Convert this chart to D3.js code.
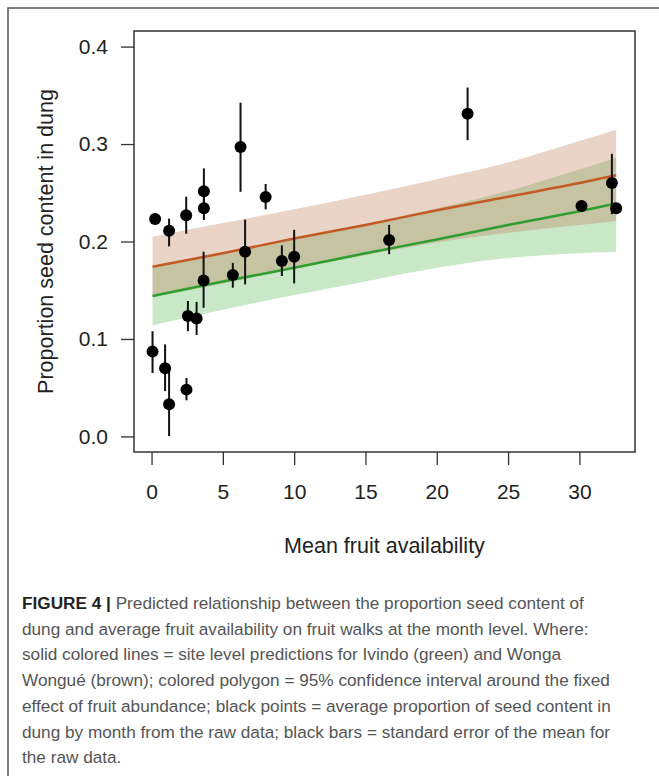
<!DOCTYPE html>
<html>
<head>
<meta charset="utf-8">
<script src="https://cdn.jsdelivr.net/npm/d3@7"></script>
<style>
  body { margin: 0; background: #fff; }
  svg { display: block; }
  .tick text { font-family: "Liberation Sans", Arial, sans-serif; font-size: 21px; fill: #222; }
  .tick line { stroke: #333; stroke-width: 1.3px; }
</style>
</head>
<body>
<div id="chart"></div>
<script>
// Monthly raw data: mean fruit availability vs proportion seed content
const fruitX = [0.07, 0.25, 0.95, 1.23, 1.23, 2.43, 2.45, 2.55, 3.16, 3.65, 3.67, 3.67,
  5.7, 6.24, 6.56, 8.0, 9.14, 10.0, 16.66, 22.16, 30.15, 32.28, 32.58];
const seedY = [0.087, 0.223, 0.070, 0.211, 0.033, 0.227, 0.048, 0.1235, 0.121, 0.160, 0.2515, 0.234,
  0.1656, 0.297, 0.1895, 0.2457, 0.180, 0.1844, 0.2015, 0.331, 0.2365, 0.260, 0.234];
const seLow = [0.065, 0.219, 0.0465, 0.195, 0.0003, 0.208, 0.037, 0.108, 0.104, 0.132, 0.234, 0.222,
  0.1526, 0.251, 0.156, 0.233, 0.1646, 0.157, 0.187, 0.304, 0.234, 0.228, 0.229];
const seHigh = [0.108, 0.227, 0.0944, 0.2235, 0.069, 0.246, 0.060, 0.139, 0.138, 0.1895, 0.275, 0.250,
  0.178, 0.3425, 0.2224, 0.259, 0.196, 0.212, 0.217, 0.358, 0.239, 0.290, 0.238];

// Model predictions and 95% CI by site
const bandX = [0.07, 5, 10, 15, 20, 25, 30, 32.58];
const wongaFit = [0.174, 0.188, 0.203, 0.217, 0.232, 0.246, 0.260, 0.268];
const wongaLow = [0.143, 0.157, 0.172, 0.186, 0.199, 0.209, 0.217, 0.221];
const wongaHigh = [0.205, 0.219, 0.233, 0.248, 0.264, 0.281, 0.303, 0.315];
const ivindoFit = [0.144, 0.159, 0.173, 0.188, 0.202, 0.217, 0.231, 0.239];
const ivindoLow = [0.114, 0.130, 0.145, 0.159, 0.173, 0.183, 0.188, 0.1895];
const ivindoHigh = [0.174, 0.189, 0.203, 0.218, 0.234, 0.252, 0.274, 0.286];

const xTicks = [0, 5, 10, 15, 20, 25, 30];
const yTicks = [0.0, 0.1, 0.2, 0.3, 0.4];

const xTitle = 'Mean fruit availability';
const yTitle = 'Proportion seed content in dung';
const captionLines = [
  'dung and average fruit availability on fruit walks at the month level. Where:',
  'solid colored lines = site level predictions for Ivindo (green) and Wonga',
  'Wongué (brown); colored polygon = 95% confidence interval around the fixed',
  'effect of fruit abundance; black points = average proportion of seed content in',
  'dung by month from the raw data; black bars = standard error of the mean for',
  'the raw data.'
];
const captionHead = 'FIGURE 4 |';
const captionFirst = ' Predicted relationship between the proportion seed content of';

const width = 659;
const height = 781;
const box = { left: 134, top: 31, right: 635, bottom: 452 };
const font = '"Liberation Sans", Arial, sans-serif';

const svg = d3.select('#chart')
  .append('svg')
  .attr('width', width)
  .attr('height', height);

svg.append('rect')
  .attr('width', width)
  .attr('height', height)
  .attr('fill', '#fff');

// outer figure frame (top and left only)
svg.append('path')
  .attr('d', `M8,776 V8 H${width}`)
  .attr('fill', 'none')
  .attr('stroke', '#555')
  .attr('stroke-width', 1.5);

const x = d3.scaleLinear().domain([-1.23, 33.9]).range([box.left, box.right]);
const y = d3.scaleLinear().domain([-0.016, 0.416]).range([box.bottom, box.top]);

const bandRows = bandX.map((v, i) => ({
  x: v,
  wFit: wongaFit[i], wLo: wongaLow[i], wHi: wongaHigh[i],
  iFit: ivindoFit[i], iLo: ivindoLow[i], iHi: ivindoHigh[i]
}));

const area = (lo, hi) => d3.area()
  .x(d => x(d.x))
  .y0(d => y(d[lo]))
  .y1(d => y(d[hi]))
  .curve(d3.curveMonotoneX);

const line = key => d3.line()
  .x(d => x(d.x))
  .y(d => y(d[key]))
  .curve(d3.curveMonotoneX);

// confidence polygons: green first, brown on top
svg.append('path')
  .datum(bandRows)
  .attr('d', area('iLo', 'iHi'))
  .attr('fill', '#2aa82a')
  .attr('fill-opacity', 0.26);

svg.append('path')
  .datum(bandRows)
  .attr('d', area('wLo', 'wHi'))
  .attr('fill', '#bf7a55')
  .attr('fill-opacity', 0.33);

svg.append('path')
  .datum(bandRows)
  .attr('d', line('wFit'))
  .attr('fill', 'none')
  .attr('stroke', '#c45a24')
  .attr('stroke-width', 2.5);

svg.append('path')
  .datum(bandRows)
  .attr('d', line('iFit'))
  .attr('fill', 'none')
  .attr('stroke', '#2f9e2f')
  .attr('stroke-width', 2.5);

// raw data: error bars and points
const points = fruitX.map((v, i) => ({ x: v, y: seedY[i], lo: seLow[i], hi: seHigh[i] }));

svg.append('g')
  .selectAll('line')
  .data(points)
  .enter()
  .append('line')
  .attr('x1', d => x(d.x))
  .attr('x2', d => x(d.x))
  .attr('y1', d => y(d.lo))
  .attr('y2', d => y(d.hi))
  .attr('stroke', '#111')
  .attr('stroke-width', 2);

svg.append('g')
  .selectAll('circle')
  .data(points)
  .enter()
  .append('circle')
  .attr('cx', d => x(d.x))
  .attr('cy', d => y(d.y))
  .attr('r', 6)
  .attr('fill', '#000');

// plot box
svg.append('rect')
  .attr('x', box.left)
  .attr('y', box.top)
  .attr('width', box.right - box.left)
  .attr('height', box.bottom - box.top)
  .attr('fill', 'none')
  .attr('stroke', '#333')
  .attr('stroke-width', 1.5);

// axes
svg.append('g')
  .attr('transform', `translate(0,${box.bottom})`)
  .call(d3.axisBottom(x).tickValues(xTicks).tickSize(13).tickPadding(19).tickFormat(d3.format('d')))
  .call(g => g.select('.domain').remove());

svg.append('g')
  .attr('transform', `translate(${box.left},0)`)
  .call(d3.axisLeft(y).tickValues(yTicks).tickSize(13).tickPadding(13).tickFormat(d3.format('.1f')))
  .call(g => g.select('.domain').remove());

svg.append('text')
  .attr('x', (box.left + box.right) / 2)
  .attr('y', 553)
  .attr('text-anchor', 'middle')
  .style('font-family', font)
  .style('font-size', '21.5px')
  .style('fill', '#222')
  .text(xTitle);

svg.append('text')
  .attr('transform', `translate(53,${(box.top + box.bottom) / 2}) rotate(-90)`)
  .attr('text-anchor', 'middle')
  .style('font-family', font)
  .style('font-size', '21.5px')
  .style('fill', '#222')
  .text(yTitle);

// caption
const cap = svg.append('g')
  .style('font-family', font)
  .style('font-size', '17.2px');

const first = cap.append('text')
  .attr('x', 22)
  .attr('y', 609);
first.append('tspan')
  .style('font-weight', 'bold')
  .style('fill', '#222')
  .text(captionHead);
first.append('tspan')
  .style('fill', '#555')
  .text(captionFirst);

cap.selectAll('text.line')
  .data(captionLines)
  .enter()
  .append('text')
  .attr('class', 'line')
  .attr('x', 22)
  .attr('y', (d, i) => 609 + (i + 1) * 25.7)
  .style('fill', '#555')
  .text(d => d);
</script>
</body>
</html>
